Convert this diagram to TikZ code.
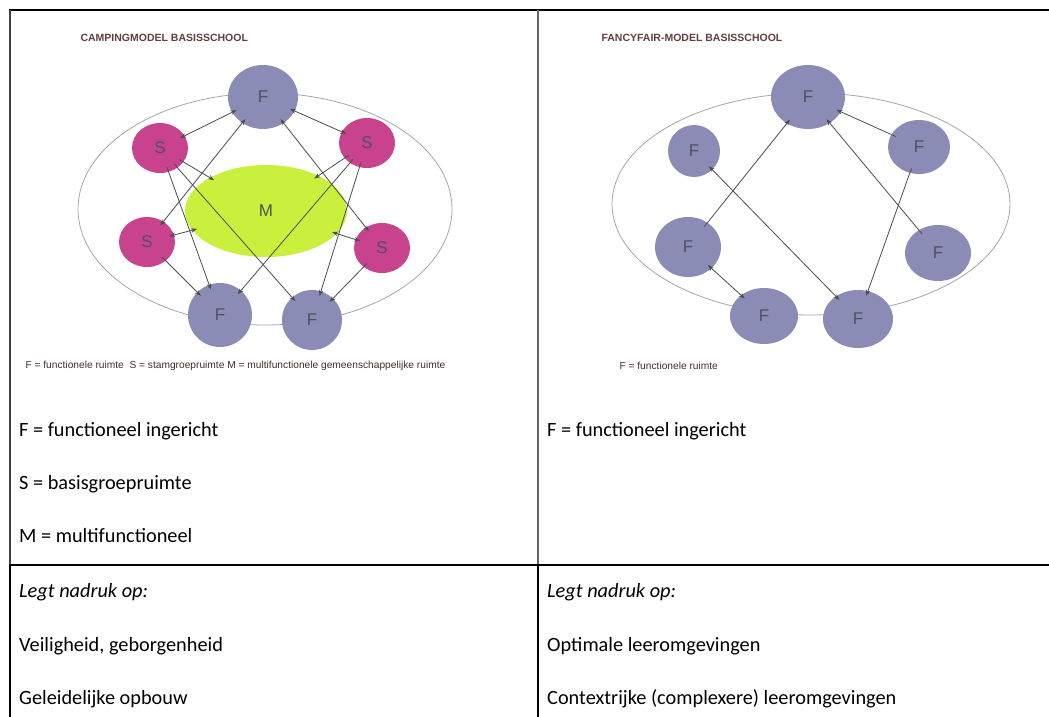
\documentclass[tikz,border=0pt]{standalone}
\usepackage{fontspec}
\setmainfont{Carlito}
\newfontfamily\arialfont{Liberation Sans}
\usepackage{tikz}
\usetikzlibrary{shapes.geometric,arrows.meta}
\definecolor{fblue}{RGB}{138,140,182}
\definecolor{spink}{RGB}{201,66,142}
\definecolor{mgreen}{RGB}{202,240,62}
\definecolor{titlered}{RGB}{100,62,62}
\definecolor{labelgray}{RGB}{80,80,96}

\begin{document}
\begin{tikzpicture}[x=1pt,y=-1pt,
    room/.style={ellipse,inner sep=0pt,text=labelgray,font=\arialfont\fontsize{17}{17}\selectfont},
    fnode/.style={room,fill=fblue},
    snode/.style={room,fill=spink,minimum width=56,minimum height=50},
    ring/.style={draw=black!35,line width=0.8pt},
    arr/.style={draw=black!70,line width=0.8pt,-{Stealth[length=6pt,width=4.5pt]},shorten >=-5pt,shorten <=-5pt},
    darr/.style={arr,{Stealth[length=6pt,width=4.5pt]}-{Stealth[length=6pt,width=4.5pt]}},
    title/.style={anchor=west,text=titlered,font=\arialfont\bfseries\fontsize{10.5}{12}\selectfont},
    legend/.style={anchor=west,text=titlered!70!black,font=\arialfont\fontsize{10.2}{12}\selectfont},
    cell/.style={anchor=base west,inner sep=0pt,font=\fontsize{20.3}{24}\selectfont}]
  \useasboundingbox (0,0) rectangle (1049,717);

  % table
  \draw[line width=1.3pt] (9,10) -- (1049,10);
  \draw[black!75,line width=1.3pt] (10,10) -- (10,565);
  \draw[black!60,line width=1.3pt] (538,10) -- (538,565);
  \draw[line width=1.3pt] (9,565) -- (1049,565);
  \draw[line width=1.3pt] (10,565) -- (10,717);
  \draw[line width=1.3pt] (538,565) -- (538,717);

  % campingmodel
  \node[title] (ctitle) at (77,38) {CAMPINGMODEL BASISSCHOOL};
  \draw[ring] (265,209) ellipse [x radius=187,y radius=116];
  \node[room,fill=mgreen,minimum width=162,minimum height=92] (m) at (266,211) {M};
  \node[fnode,minimum width=70,minimum height=64] (ft) at (263,97) {F};
  \node[snode] (sul) at (160,148) {S};
  \node[snode] (sur) at (367,143) {S};
  \node[snode] (sl) at (147,242) {S};
  \node[snode] (sr) at (382,248) {S};
  \node[fnode,minimum width=64,minimum height=64] (fbl) at (220,315) {F};
  \node[fnode,minimum width=60,minimum height=60] (fbr) at (312,320) {F};
  \draw[darr] (sul) -- (ft);
  \draw[darr] (sur) -- (ft);
  \draw[darr] (ft) -- (sl);
  \draw[darr] (ft) -- (sr);
  \draw[arr] (sul) -- (m);
  \draw[arr] (sur) -- (m);
  \draw[darr] (sl) -- (m);
  \draw[darr] (sr) -- (m);
  \draw[arr] (sul) -- (fbl);
  \draw[arr] (sul) -- (fbr);
  \draw[arr] (sur) -- (fbl);
  \draw[arr] (sur) -- (fbr);
  \draw[arr] (sl) -- (fbl);
  \draw[arr] (sr) -- (fbr);
  \node[legend] (clegend) at (22,366) {F = functionele ruimte\ \ S = stamgroepruimte M = multifunctionele gemeenschappelijke ruimte};

  % fancyfair-model
  \node[title] (ftitle) at (598,38) {FANCYFAIR-MODEL BASISSCHOOL};
  \draw[ring] (811,204) ellipse [x radius=199,y radius=111];
  \node[fnode,minimum width=74,minimum height=64] (gt) at (808,97) {F};
  \node[fnode,minimum width=52,minimum height=52] (gul) at (694,151) {F};
  \node[fnode,minimum width=62,minimum height=54] (gur) at (919,147) {F};
  \node[fnode,minimum width=66,minimum height=60] (gl) at (688,247) {F};
  \node[fnode,minimum width=66,minimum height=56] (gr) at (938,253) {F};
  \node[fnode,minimum width=68,minimum height=56] (gbl) at (764,316) {F};
  \node[fnode,minimum width=70,minimum height=58] (gbr) at (858,319) {F};
  \draw[arr] (gl) -- (gt);
  \draw[arr] (gur) -- (gt);
  \draw[arr] (gr) -- (gt);
  \draw[darr] (gul) -- (gbr);
  \draw[arr] (gur) -- (gbr);
  \draw[darr] (gl) -- (gbl);
  \node[legend] (flegend) at (616,366) {F = functionele ruimte};

  % cells
  \node[cell] (l1) at (19,436) {F = functioneel ingericht};
  \node[cell] (l2) at (19,489) {S = basisgroepruimte};
  \node[cell] (l3) at (19,542) {M = multifunctioneel};
  \node[cell] (l4) at (19,597) {\itshape Legt nadruk op:};
  \node[cell] (l5) at (19,651) {Veiligheid, geborgenheid};
  \node[cell] (l6) at (19,704) {Geleidelijke opbouw};
  \node[cell] (r1) at (547,436) {F = functioneel ingericht};
  \node[cell] (r4) at (547,597) {\itshape Legt nadruk op:};
  \node[cell] (r5) at (547,651) {Optimale leeromgevingen};
  \node[cell] (r6) at (547,704) {Contextrijke (complexere) leeromgevingen};
\end{tikzpicture}
\end{document}
